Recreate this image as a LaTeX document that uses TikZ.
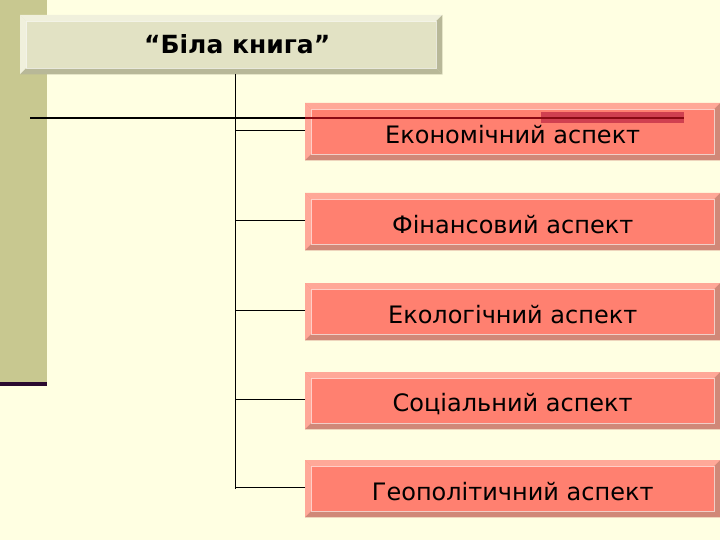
\documentclass[tikz,border=0pt]{standalone}
\usepackage{fontspec}
\setmainfont{DejaVu Sans}
\usetikzlibrary{calc}
\definecolor{bg}{HTML}{FFFFE2}
\definecolor{barc}{HTML}{C8C890}
\definecolor{purp}{HTML}{2A0A30}
\definecolor{titlef}{HTML}{E2E2C4}
\definecolor{titlel}{HTML}{F0F0DC}
\definecolor{titled}{HTML}{B8B898}
\definecolor{sal}{HTML}{FF8070}
\definecolor{sall}{HTML}{FFA898}
\definecolor{sald}{HTML}{D08878}
\definecolor{dred}{HTML}{8B0A14}
\definecolor{redbar}{HTML}{D04050}
\tikzset{x=1pt,y=-1pt,
 aspectbox/.style={fill=sal,minimum width=415pt,minimum height=57pt,inner sep=0pt,anchor=north west},
 titlebox/.style={fill=titlef,minimum width=422pt,minimum height=59pt,inner sep=0pt,anchor=north west},
 atext/.style={font=\fontsize{24}{28}\selectfont},
 ttext/.style={font=\bfseries\fontsize{25}{30}\selectfont},
 conn/.style={line width=0.9pt,black}}
\newcommand{\bev}[3]{% node, light, dark
 \fill[#2] (#1.north west) -- (#1.north east) -- ($(#1.north east)+(-6,6)$) -- ($(#1.north west)+(6,6)$) -- cycle;
 \fill[#2] (#1.north west) -- (#1.south west) -- ($(#1.south west)+(6,-6)$) -- ($(#1.north west)+(6,6)$) -- cycle;
 \fill[#3] (#1.south west) -- (#1.south east) -- ($(#1.south east)+(-6,-6)$) -- ($(#1.south west)+(6,-6)$) -- cycle;
 \fill[#3] (#1.north east) -- (#1.south east) -- ($(#1.south east)+(-6,-6)$) -- ($(#1.north east)+(-6,6)$) -- cycle;
 \draw[white,opacity=0.6,line width=0.6pt] ($(#1.north west)+(6,6)$) rectangle ($(#1.south east)+(-6,-6)$);}
\begin{document}
\begin{tikzpicture}
\fill[bg] (0,0) rectangle (720,540);
\useasboundingbox (0,0) rectangle (720,540);
\fill[barc] (0,0) rectangle (47,382);
\fill[purp] (0,382) rectangle (47,386);
\node[titlebox] (t) at (20,15) {};
\bev{t}{titlel}{titled}
\node[ttext] at ($(t.center)+(6,-1)$) {“Біла книга”};
\foreach \n/\y/\txt in {a/103/Економічний аспект,b/193/Фінансовий аспект,c/283/Екологічний аспект,d/372/Соціальний аспект,e/460/Геополітичний аспект}{
 \node[aspectbox] (\n) at (305,\y) {};
 \bev{\n}{sall}{sald}
 \node[atext] at ($(\n.center)+(0,3)$) {\txt};
}
\coordinate (top) at (235,74);
\coordinate (bot) at (235,489);
\draw[conn] (top) -- (bot);
\foreach \n in {a,b,c,d,e}{\draw[conn] (\n.west |- {$(\n.center)+(0,-1)$}) -- ({$(\n.center)+(0,-1)$} -| top);}
\coordinate (l1) at (30,118);
\coordinate (l2) at (305,118);
\coordinate (l3) at (684,118);
\fill[redbar] (541,112) rectangle (684,123);
\draw[line width=1.4pt,black] (l1) -- (l2);
\draw[line width=1.4pt,dred] (l2) -- (l3);
\end{tikzpicture}
\end{document}
